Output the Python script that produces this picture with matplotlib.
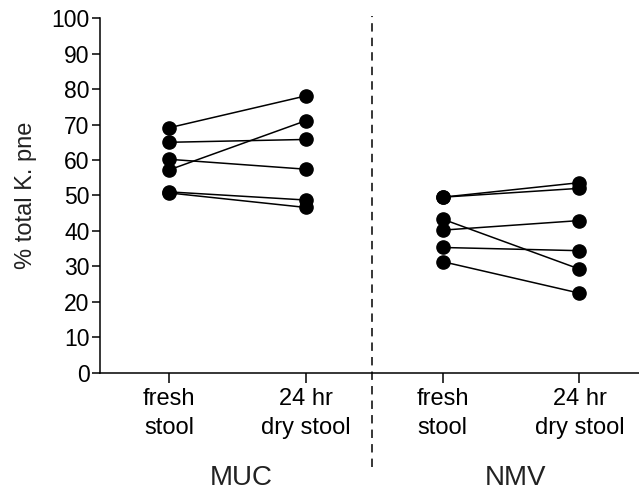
import numpy as np
import matplotlib
matplotlib.use("Agg")
import matplotlib.pyplot as plt

plt.rcParams["font.family"] = ["Liberation Sans", "DejaVu Sans"]

# paired measurements: fresh stool vs 24 hr dry stool
groups = ["MUC", "NMV"]
conditions = ["fresh\nstool", "24 hr\ndry stool"]
muc_fresh = [69.1, 65.0, 60.2, 57.2, 51.0, 50.7]
muc_dry = [78.1, 65.8, 57.4, 71.1, 48.7, 46.6]
nmv_fresh = [49.5, 49.5, 43.3, 40.2, 35.3, 31.3]
nmv_dry = [53.6, 52.0, 29.2, 42.9, 34.4, 22.4]

x_pos = [0, 1, 2, 3]

fig = plt.figure(figsize=(6.39, 4.91), dpi=100)
ax = fig.add_axes([0.1565, 0.2413, 0.8435, 0.7214])

pairs = [(muc_fresh, muc_dry, x_pos[0], x_pos[1]),
         (nmv_fresh, nmv_dry, x_pos[2], x_pos[3])]
for fresh, dry, xa, xb in pairs:
    for a, b in zip(fresh, dry):
        ax.plot([xa, xb], [a, b], color="black", lw=1.1,
                marker="o", ms=9.5, mfc="black", mec="black", clip_on=False, zorder=3)

ax.set_xlim(-0.505, 3.435)
ax.set_ylim(0, 100)
ax.set_yticks(np.arange(0, 101, 10))
ax.set_xticks(x_pos)
ax.set_xticklabels(conditions * 2, fontsize=17, linespacing=1.42)
ax.tick_params(axis="y", labelsize=16.5, length=6, width=1.1, direction="out", pad=1.5)
ax.tick_params(axis="x", length=7, width=1.1, direction="out", pad=4)
ax.set_ylabel("% total K. pne", fontsize=17, labelpad=10, color="#222222")

for side in ["top", "right"]:
    ax.spines[side].set_visible(False)
for side in ["left", "bottom"]:
    ax.spines[side].set_linewidth(1.1)

# dashed divider between the two groups
ax.axvline(1.48, ymin=-0.267, ymax=1.007, color="black", lw=1.1,
           dashes=(5.5, 4), clip_on=False)

for label, xc in zip(groups, [0.53, 2.53]):
    ax.text(xc, -0.298, label, transform=ax.get_xaxis_transform(),
            ha="center", va="center", fontsize=20, color="#222222")

fig.savefig("out.png", dpi=100)
